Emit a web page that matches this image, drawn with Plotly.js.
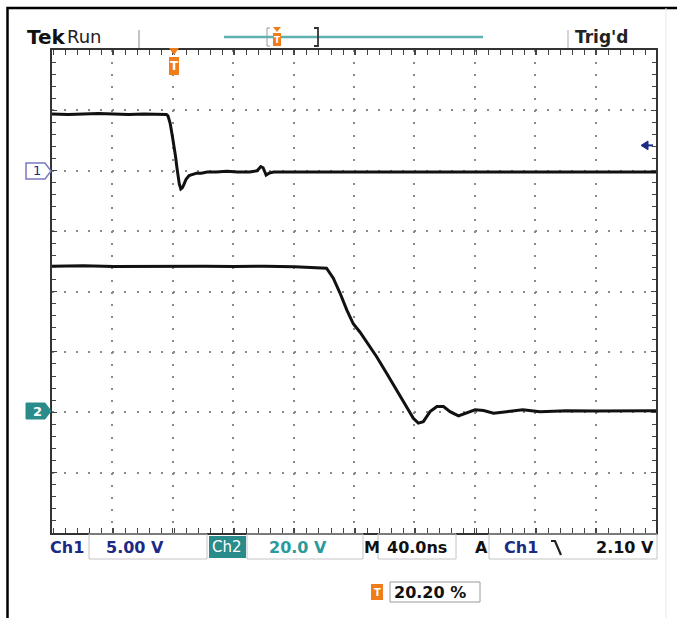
<!DOCTYPE html>
<html>
<head>
<meta charset="utf-8">
<script src="https://cdn.plot.ly/plotly-3.0.1.min.js"></script>
<style>html,body{margin:0;padding:0;background:#fff;}#chart{width:677px;height:618px;}</style>
</head>
<body>
<div id="chart"></div>
<script>
// ---- Data read from the scope screen ----
// time relative to trigger (ns), 40 ns/div, trigger position 20.20 %
var timeRange = [-80.8, 319.2];
// Channel 1 (5.00 V/div)
var ch1Time = [-80.8,-70,-60,-50,-40,-30,-20,-10,-5,-4,-2.5,-1,0,1,2,3,3.5,4.5,5.5,6.5,8,10,12,15,18,22,28,35,42,50,55,57.5,59,61,63,66,72,80,100,120,140,160,180,200,220,240,260,280,300,319.2];
var ch1Volt = [4.7,4.65,4.7,4.75,4.7,4.65,4.7,4.7,4.65,4.55,3.9,2.8,2.1,1.2,0.2,-0.7,-1.1,-1.5,-1.4,-1.15,-0.7,-0.4,-0.3,-0.2,-0.2,-0.1,-0.1,-0.05,-0.1,-0.1,0.0,0.35,0.25,-0.35,-0.2,-0.1,-0.1,-0.1,-0.05,-0.1,-0.1,-0.05,-0.1,-0.1,-0.05,-0.1,-0.1,-0.1,-0.05,-0.1];
// Channel 2 (20.0 V/div)
var ch2Time = [-80.8,-60,-40,-20,0,20,40,60,80,95,101,105.5,110,114.4,118.7,123.2,127.6,134.2,140.8,147.5,154.1,158.5,161.8,165.1,169.6,174.1,178.5,182.8,188.4,193.9,199.4,205,211.6,220.3,231,242.4,260,280,300,319.2];
var ch2Volt = [48.4,48.5,48.3,48.4,48.5,48.4,48.3,48.4,48.2,48.0,47.7,44.4,39.4,33.9,29.3,26.5,23.4,18.4,12.9,7.4,1.9,-2.0,-3.6,-3.1,0.2,1.9,1.9,0.2,-1.2,-0.3,0.8,0.6,-0.3,0.2,0.8,0.2,0.5,0.4,0.5,0.5];
var ch1Range = [-30, 10];   // ground marker 2 div above centre
var ch2Range = [-40, 120];  // ground marker 2 div below centre
var triggerLevel = 2.10;
var readouts = {ch1: "5.00 V", ch2: "20.0 V", time: "40.0ns", trig: "2.10 V", pos: "20.20 %"};

// ---- Layout helpers (pixel -> paper) ----
var L = 52, R = 656, T = 50, B = 533;
function px(x){ return (x - L) / (R - L); }
function py(y){ return (B - y) / (B - T); }
function path(pts, close){
  return pts.map(function(p,i){ return (i ? 'L' : 'M') + px(p[0]) + ',' + py(p[1]); }).join(' ') + (close ? ' Z' : '');
}
var FONT = "'DejaVu Sans', 'Liberation Sans', sans-serif";
var ORANGE = '#f07d1a', TEAL = '#2a8b8b', NAVY = '#1b2a85';

var traces = [
  {x: ch1Time, y: ch1Volt, type: 'scatter', mode: 'lines', xaxis: 'x', yaxis: 'y',
   line: {color: '#111', width: 3}, hoverinfo: 'skip', showlegend: false},
  {x: ch2Time, y: ch2Volt, type: 'scatter', mode: 'lines', xaxis: 'x', yaxis: 'y2',
   line: {color: '#111', width: 3}, hoverinfo: 'skip', showlegend: false}
];

var shapes = [];
function addPath(pts, close, color, width, fill){
  shapes.push({type: 'path', xref: 'paper', yref: 'paper', path: path(pts, close),
    line: {color: color, width: width}, fillcolor: fill || 'rgba(0,0,0,0)', layer: 'above'});
}
function addRect(x0,y0,x1,y1,color,width,fill){
  shapes.push({type: 'rect', xref: 'paper', yref: 'paper', x0: px(x0), x1: px(x1), y0: py(y1), y1: py(y0),
    line: {color: color, width: width}, fillcolor: fill || 'rgba(0,0,0,0)', layer: 'above'});
}
// outer frame
addPath([[7.5,618],[7.5,8],[677,8]], false, '#000', 2.5);
addPath([[666,8],[666,618]], false, '#e8e8e8', 1);
// header
addPath([[139,30],[139,48]], false, '#888', 1);
addPath([[568,30],[568,48]], false, '#aaa', 1);
addPath([[224,37],[483,37]], false, '#5fb0b0', 2.5);
addPath([[270,28],[267,28],[267,46],[270,46]], false, '#999', 1);
addPath([[314,28],[318,28],[318,46],[314,46]], false, '#333', 1.8);
addPath([[273,27],[281,27],[277,32]], true, ORANGE, 0, ORANGE);
addRect(273,33,281,46, ORANGE, 0, ORANGE);
// trigger position marker in the graticule
addPath([[169,48],[179,48],[174,55]], true, ORANGE, 0, ORANGE);
addRect(169,57,179,75, ORANGE, 0, ORANGE);
// channel ground markers
addPath([[26,163],[45,163],[51,171],[45,179],[26,179]], true, '#7a7ac0', 1.5, '#fff');
addPath([[26,403],[45,403],[51,411],[45,419],[26,419]], true, TEAL, 1, TEAL);
// trigger level arrow (on channel 1 scale)
shapes.push({type: 'path', xref: 'paper', yref: 'y',
  path: 'M' + px(641) + ',' + triggerLevel + ' L' + px(648) + ',' + (triggerLevel + 0.36) + ' L' + px(648) + ',' + (triggerLevel - 0.36) + ' Z',
  line: {color: NAVY, width: 1}, fillcolor: NAVY, layer: 'above'});
shapes.push({type: 'line', xref: 'paper', yref: 'y', x0: px(646), x1: px(653), y0: triggerLevel, y1: triggerLevel,
  line: {color: NAVY, width: 2}, layer: 'above'});
// readout boxes
addRect(89,534,207,559, '#c4c4c4', 1);
addRect(209,536,246,558, TEAL, 0, TEAL);
addRect(247,534,363,559, '#c4c4c4', 1);
addRect(378,534,456,559, '#c4c4c4', 1);
addRect(489,534,657,559, '#c4c4c4', 1);
addPath([[551,541],[555,541],[561,555]], false, '#222', 2.2);
addRect(390,582,480,602, '#9a9a9a', 1);
addRect(371,584,383,600, ORANGE, 0, ORANGE);

var annotations = [];
function txt(text, x, y, anchor, color, size, weight){
  annotations.push({xref: 'paper', yref: 'paper', x: px(x), y: py(y), text: text, showarrow: false,
    xanchor: anchor || 'left', yanchor: 'middle', borderpad: 0,
    font: {family: FONT, size: size || 16, color: color || '#111', weight: weight || 'normal'}});
}
txt('Tek', 26, 37, 'left', '#111', 20, 'bold');
txt('Run', 66, 37, 'left', '#222', 18, 'normal');
txt("Trig'd", 574, 37, 'left', '#222', 17, 'bold');
txt('T', 277, 40, 'center', '#fff', 9, 'bold');
txt('T', 174, 66, 'center', '#fff', 12, 'bold');
txt('1', 37, 171, 'center', NAVY, 13, 'normal');
txt('2', 37, 411, 'center', '#fff', 13, 'bold');
txt('Ch1', 49, 547, 'left', NAVY, 16, 'bold');
txt(readouts.ch1, 135, 547, 'center', NAVY, 16, 'bold');
txt('Ch2', 227, 547, 'center', '#fff', 15, 'normal');
txt(readouts.ch2, 298, 547, 'center', '#2a9a9a', 16, 'bold');
txt('M', 372, 547, 'center', '#111', 16, 'bold');
txt(readouts.time, 417, 547, 'center', '#111', 16, 'bold');
txt('A', 481, 547, 'center', '#111', 16, 'bold');
txt('Ch1', 521, 547, 'center', NAVY, 16, 'bold');
txt(readouts.trig, 655, 547, 'right', '#111', 16, 'bold');
txt('T', 377, 592, 'center', '#fff', 10, 'bold');
txt(readouts.pos, 393, 592, 'left', '#111', 16, 'bold');

var axisCommon = {showticklabels: false, zeroline: false, showline: true, linecolor: '#333', linewidth: 2,
  mirror: 'allticks', ticks: 'inside', ticklen: 5, tickcolor: '#444', tickwidth: 1,
  showgrid: true, gridcolor: '#8a8a8a', gridwidth: 2, fixedrange: true};

var layout = {
  width: 677, height: 618,
  margin: {l: L, r: 677 - R, t: T, b: 618 - B, pad: 0},
  paper_bgcolor: '#fff', plot_bgcolor: '#fff',
  showlegend: false,
  xaxis: Object.assign({}, axisCommon, {range: timeRange, tick0: timeRange[0], dtick: 40,
    griddash: '2px,10.08px', minor: {dtick: 8, ticks: 'inside', ticklen: 4, tickcolor: '#444', showgrid: false}}),
  yaxis: Object.assign({}, axisCommon, {range: ch1Range, tick0: 0, dtick: 5,
    griddash: '2px,10.08px', minor: {dtick: 1, ticks: 'inside', ticklen: 4, tickcolor: '#444', showgrid: false}}),
  yaxis2: {range: ch2Range, overlaying: 'y', visible: false, fixedrange: true},
  shapes: shapes,
  annotations: annotations
};

Plotly.newPlot('chart', traces, layout, {staticPlot: true, displayModeBar: false});
</script>
</body>
</html>
